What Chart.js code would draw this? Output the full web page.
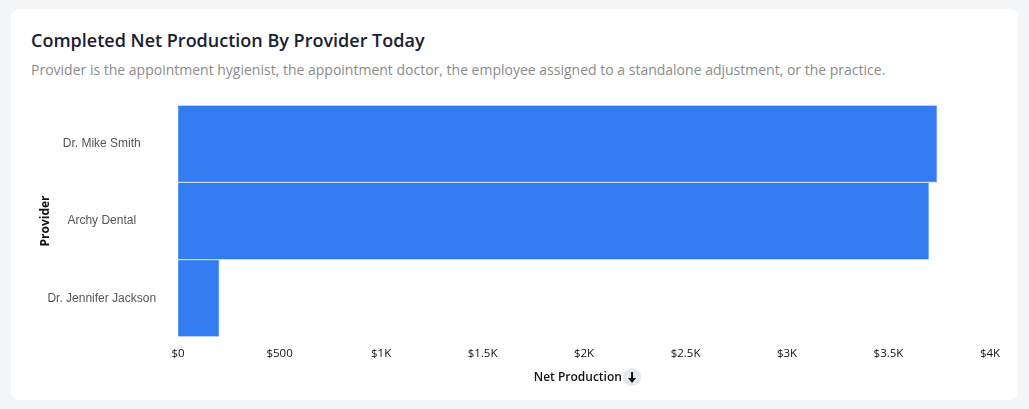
<!DOCTYPE html>
<html>
<head>
<meta charset="utf-8">
<script src="https://cdn.jsdelivr.net/npm/chart.js@4/dist/chart.umd.min.js"></script>
<style>
  body { margin: 0; background: #f4f5f7; width: 1029px; height: 409px; overflow: hidden; font-family: "Open Sans", sans-serif; }
  .card { position: absolute; left: 11px; top: 9px; width: 1007px; height: 391px; background: #fff; border-radius: 8px; }
  .card h2 { position: absolute; left: 20px; top: 19px; margin: 0; font-size: 18px; font-weight: 600; color: #1b2030; }
  .card p { position: absolute; left: 20px; top: 51px; margin: 0; font-size: 14px; color: #8b8b8b; }
  .chart-box { position: absolute; left: 27px; top: 75px; width: 967px; height: 303px; }
</style>
</head>
<body>
<div class="card">
  <h2>Completed Net Production By Provider Today</h2>
  <p>Provider is the appointment hygienist, the appointment doctor, the employee assigned to a standalone adjustment, or the practice.</p>
  <div class="chart-box"><canvas id="chart"></canvas></div>
</div>
<script>
// Providers and today's completed net production
const providers = ['Dr. Mike Smith', 'Archy Dental', 'Dr. Jennifer Jackson'];
const netProduction = [3740, 3700, 203];
const tickLabels = ['$0', '$500', '$1K', '$1.5K', '$2K', '$2.5K', '$3K', '$3.5K', '$4K'];

// draws the little round sort arrow after the x axis title
const sortIcon = {
    id: 'sortIcon',
    afterDraw(chart) {
        const ctx = chart.ctx;
        const x = chart.scales.x;
        const cx = (chart.chartArea.left + chart.chartArea.right) / 2 + 48;
        const cy = x.bottom - 10;
        ctx.save();
        ctx.fillStyle = '#e6e8ef';
        ctx.beginPath();
        ctx.arc(cx, cy, 9, 0, Math.PI * 2);
        ctx.fill();
        ctx.strokeStyle = '#111';
        ctx.fillStyle = '#111';
        ctx.lineWidth = 2;
        ctx.beginPath();
        ctx.moveTo(cx, cy - 5);
        ctx.lineTo(cx, cy + 2);
        ctx.stroke();
        ctx.beginPath();
        ctx.moveTo(cx - 4, cy + 1);
        ctx.lineTo(cx + 4, cy + 1);
        ctx.lineTo(cx, cy + 6);
        ctx.closePath();
        ctx.fill();
        ctx.restore();
    }
};

const ctx = document.getElementById('chart').getContext('2d');
new Chart(ctx, {
    type: 'bar',
    data: {
        labels: providers,
        datasets: [
            {
                label: 'Net Production',
                data: netProduction,
                backgroundColor: '#337bf0',
                borderColor: '#c6d8fa',
                borderWidth: 1,
                barPercentage: 1,
                categoryPercentage: 1,
            },
        ],
    },
    options: {
        indexAxis: 'y',
        responsive: true,
        maintainAspectRatio: false,
        animation: false,
        layout: { padding: { left: 0, right: 15, top: 7, bottom: 0 } },
        plugins: {
            legend: { display: false },
            tooltip: { enabled: false },
        },
        scales: {
            x: {
                min: 0,
                max: 4000,
                grid: { display: false },
                border: { display: false },
                ticks: {
                    stepSize: 500,
                    color: '#111',
                    padding: 2,
                    font: { family: 'Open Sans', size: 11.5 },
                    callback: (value, i) => tickLabels[i],
                },
                title: {
                    display: true,
                    text: 'Net Production    ',
                    color: '#111',
                    font: { family: 'Open Sans', size: 12, weight: 600 },
                    padding: { top: 8, bottom: 2 },
                },
            },
            y: {
                grid: { display: false },
                border: { display: false },
                ticks: {
                    crossAlign: 'center',
                    color: '#555',
                    padding: 14,
                    font: { family: 'Liberation Sans', size: 12 },
                },
                title: {
                    display: true,
                    text: 'Provider',
                    color: '#111',
                    font: { family: 'Open Sans', size: 12, weight: 'bold' },
                    padding: { top: 0, bottom: -19 },
                },
            },
        },
    },
    plugins: [sortIcon],
});
</script>
</body>
</html>
